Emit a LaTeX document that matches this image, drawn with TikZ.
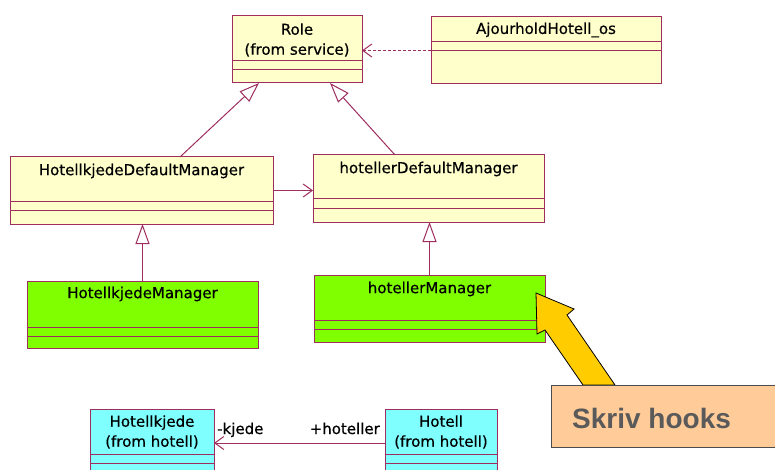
\documentclass[tikz,border=0pt]{standalone}
\usepackage{fontspec}
\setmainfont[FakeBold=0.5]{DejaVu Sans}
\newfontfamily\hookfont{Liberation Sans}
\usepackage{tikz}
\usetikzlibrary{positioning,arrows.meta,calc}
\definecolor{umlink}   {HTML}{9E2E5E}
\definecolor{clsfill}  {HTML}{FFFFCC}
\definecolor{hookgreen}{HTML}{80FF00}
\definecolor{extcyan}  {HTML}{80FFFF}
\definecolor{notefill} {HTML}{FFCC99}
\definecolor{notearrow}{HTML}{FFCC00}
\definecolor{notetext} {HTML}{5A5A5A}
\tikzset{
  % --- nodes
  cls/.style    = {draw=umlink, line width=1pt, fill=clsfill, anchor=north west,
                   inner sep=0pt, outer sep=0pt},
  hook/.style   = {cls, fill=hookgreen},
  ext/.style    = {cls, fill=extcyan},
  cname/.style  = {font=\fontsize{15}{20}\selectfont, align=center, inner sep=0pt},
  rolelbl/.style= {font=\fontsize{15}{18}\selectfont, inner sep=0pt},
  note/.style   = {draw=black!70, line width=1pt, fill=notefill, anchor=north west,
                   inner sep=0pt},
  % --- edges
  sep/.style    = {draw=umlink, line width=1pt},
  gen/.style    = {draw=umlink, line width=1pt,
                   -{Triangle[open, length=20pt, width=14pt, fill=white]}},
  assoc/.style  = {draw=umlink, line width=1pt, -{Straight Barb[length=9pt, width=13pt]}},
  dep/.style    = {assoc, dash pattern=on 3pt off 2pt},
  bigarrow/.style = {draw=black, line width=0.8pt, fill=notearrow, line join=miter},
}
\begin{document}
\begin{tikzpicture}[x=1pt, y=-1pt]
  \useasboundingbox[fill=white] (0,0) rectangle (775,470);

  % top row
  \node[cls, minimum width=130, minimum height=67] (role)  at (232,16) {};
  \node[cls, minimum width=230, minimum height=67] (ajour) at (431,17) {};
  \node[cname] at ($(role.north)+(0,24)$) {Role\\(from service)};
  \node[cname] at ($(ajour.north)+(0,13)$) {AjourholdHotell\_os};
  \draw[sep] (role.west |- 0,61)  -- (role.east |- 0,61);
  \draw[sep] (role.west |- 0,70)  -- (role.east |- 0,70);
  \draw[sep] (ajour.west |- 0,42) -- (ajour.east |- 0,42);
  \draw[sep] (ajour.west |- 0,51) -- (ajour.east |- 0,51);

  % default managers
  \node[cls, minimum width=263, minimum height=67] (hkdm) at (10,157) {};
  \node[cls, minimum width=231, minimum height=67] (hdm)  at (313,155) {};
  \node[cname] at ($(hkdm.north)+(0,14)$) {HotellkjedeDefaultManager};
  \node[cname] at ($(hdm.north)+(0,14)$)  {hotellerDefaultManager};
  \draw[sep] (hkdm.west |- 0,202) -- (hkdm.east |- 0,202);
  \draw[sep] (hkdm.west |- 0,211) -- (hkdm.east |- 0,211);
  \draw[sep] (hdm.west |- 0,199)  -- (hdm.east |- 0,199);
  \draw[sep] (hdm.west |- 0,209)  -- (hdm.east |- 0,209);

  % managers to write
  \node[hook, minimum width=231, minimum height=67] (hkm) at (27,281) {};
  \node[hook, minimum width=231, minimum height=67] (hm)  at (314,275) {};
  \node[cname] at ($(hkm.north)+(0,13)$) {HotellkjedeManager};
  \node[cname] at ($(hm.north)+(0,14)$)  {hotellerManager};
  \draw[sep] (hkm.west |- 0,327) -- (hkm.east |- 0,327);
  \draw[sep] (hkm.west |- 0,336) -- (hkm.east |- 0,336);
  \draw[sep] (hm.west |- 0,320)  -- (hm.east |- 0,320);
  \draw[sep] (hm.west |- 0,329)  -- (hm.east |- 0,329);

  % hotell package
  \node[ext, minimum width=124, minimum height=68] (kjede)  at (90,409) {};
  \node[ext, minimum width=112, minimum height=68] (hotell) at (385,409) {};
  \node[cname] at ($(kjede.north)+(0,23)$)  {Hotellkjede\\(from hotell)};
  \node[cname] at ($(hotell.north)+(0,23)$) {Hotell\\(from hotell)};
  \draw[sep] (kjede.west |- 0,454)  -- (kjede.east |- 0,454);
  \draw[sep] (kjede.west |- 0,463)  -- (kjede.east |- 0,463);
  \draw[sep] (hotell.west |- 0,454) -- (hotell.east |- 0,454);
  \draw[sep] (hotell.west |- 0,463) -- (hotell.east |- 0,463);

  % relations
  \draw[dep]   (ajour.west) -- (ajour.west -| role.east);
  \draw[gen]   ($(hkdm.north west)+(170,0)$) -- ($(role.south west)+(27,0)$);
  \draw[gen]   ($(hdm.north west)+(82,0)$)   -- ($(role.south west)+(98,0)$);
  \draw[assoc] (hkdm.east) -- (hkdm.east -| hdm.west);
  \draw[gen]   (hkm.north) -- (hkm.north |- hkdm.south);
  \draw[gen]   (hm.north)  -- (hm.north |- hdm.south);
  \draw[assoc] (hotell.west) -- (kjede.east);
  \node[rolelbl, anchor=base west] (rkjede) at ($(kjede.east)+(3,-9)$) {-kjede};
  \node[rolelbl, anchor=base east] (rhot)   at ($(hotell.west)+(-5,-9)$) {+hoteller};

  % the note
  \draw[bigarrow] (536,293) -- (574,309) -- (567,315) -- (615,385) -- (583,385)
    -- (545,330) -- (537,334) -- cycle;
  \node[note, minimum width=240, minimum height=62] (hooks) at (551,385) {};
  \node[font=\hookfont\bfseries\fontsize{28}{30}\selectfont, text=notetext,
        anchor=base west, inner sep=0pt] (hookstxt) at (572,428) {Skriv hooks};
\end{tikzpicture}
\end{document}
